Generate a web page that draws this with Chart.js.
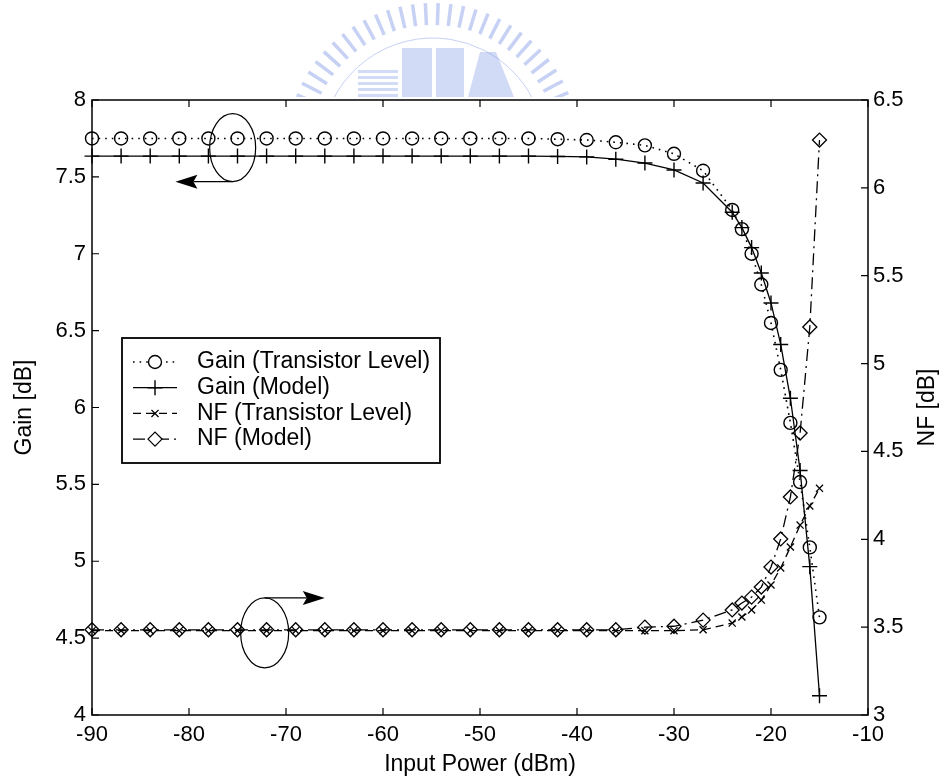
<!DOCTYPE html>
<html lang="en">
<head>
<meta charset="UTF-8" />
<title>Gain and NF vs Input Power</title>
<script src="https://cdn.jsdelivr.net/npm/chart.js"></script>
<style>
  body { margin: 0; background: #fff; }
  canvas { display: block; }
</style>
</head>
<body>
<canvas id="gainChart" width="944" height="782"></canvas>
<script>
// input power sweep (dBm): every 3 dBm, then every 1 dBm near compression
const inputPower = [-90, -87, -84, -81, -78, -75, -72, -69, -66, -63, -60, -57, -54, -51, -48, -45, -42, -39, -36, -33, -30, -27,
                    -24, -23, -22, -21, -20, -19, -18, -17, -16, -15];

// gain [dB], left axis
const gainTransistor = [7.75, 7.75, 7.75, 7.75, 7.75, 7.75, 7.75, 7.75, 7.75, 7.75, 7.75, 7.75, 7.75, 7.75, 7.75, 7.75, 7.745, 7.74, 7.725, 7.705, 7.65, 7.54,
                        7.285, 7.16, 7.0, 6.8, 6.55, 6.245, 5.9, 5.515, 5.09, 4.635];
const gainModel = [7.635, 7.635, 7.635, 7.635, 7.635, 7.635, 7.635, 7.635, 7.635, 7.635, 7.635, 7.635, 7.635, 7.635, 7.635, 7.635, 7.633, 7.63, 7.615, 7.59, 7.545, 7.46,
                   7.27, 7.17, 7.04, 6.875, 6.68, 6.41, 6.06, 5.59, 4.965, 4.125];

// noise figure [dB], right axis
const nfTransistor = [3.48, 3.48, 3.48, 3.48, 3.48, 3.48, 3.48, 3.48, 3.48, 3.48, 3.48, 3.48, 3.48, 3.48, 3.48, 3.48, 3.48, 3.48, 3.48, 3.48, 3.48, 3.485,
                      3.523, 3.558, 3.598, 3.654, 3.74, 3.837, 3.956, 4.081, 4.19, 4.29];
const nfModel = [3.485, 3.485, 3.485, 3.485, 3.485, 3.485, 3.485, 3.485, 3.485, 3.485, 3.485, 3.485, 3.485, 3.485, 3.485, 3.485, 3.485, 3.485, 3.485, 3.5, 3.505, 3.54,
                 3.598, 3.637, 3.671, 3.728, 3.842, 4.002, 4.241, 4.605, 5.208, 6.272];

const seriesLabels = ['Gain (Transistor Level)', 'Gain (Model)', 'NF (Transistor Level)', 'NF (Model)'];

const FONT = 'Liberation Sans, Arial, Helvetica, sans-serif';

const pts = ys => inputPower.map((x, i) => ({ x: x, y: ys[i] }));

// the circled-curve annotations (axis values), arrows point to the axis each curve belongs to
const gainCallout = { x: -75.5, y: 7.69, rx: 23, ry: 34, arrowTo: -81.4 };
const nfCallout = { x: -72.2, y: 3.467, rx: 24, ry: 35, arrowTo: -66 };

function arrowHead(ctx, tipX, y, dir) {
    ctx.beginPath();
    ctx.moveTo(tipX, y);
    ctx.lineTo(tipX - dir * 22, y - 7);
    ctx.lineTo(tipX - dir * 18, y);
    ctx.lineTo(tipX - dir * 22, y + 7);
    ctx.closePath();
    ctx.fill();
}

const decor = {
    id: 'decor',
    beforeDraw(chart) {
        const ctx = chart.ctx;
        ctx.save();
        ctx.fillStyle = '#fff';
        ctx.fillRect(0, 0, chart.width, chart.height);

        // faint watermark logo above the plot
        ctx.beginPath();
        ctx.rect(0, 0, chart.width, 97);
        ctx.clip();
        ctx.strokeStyle = 'rgba(105,135,225,0.38)';
        ctx.lineWidth = 3.5;
        const cx = 433, cy = 150;
        for (let a = 192; a <= 348; a += 5) {
            const r = a * Math.PI / 180;
            ctx.beginPath();
            ctx.moveTo(cx + Math.cos(r) * 125, cy + Math.sin(r) * 125);
            ctx.lineTo(cx + Math.cos(r) * 147, cy + Math.sin(r) * 147);
            ctx.stroke();
        }
        ctx.lineWidth = 1;
        ctx.beginPath();
        ctx.arc(cx, cy, 112, Math.PI * 1.05, Math.PI * 1.95);
        ctx.stroke();
        ctx.fillStyle = 'rgba(105,135,225,0.3)';
        for (let i = 0; i < 5; i++) ctx.fillRect(358, 70 + i * 6, 40, 3);
        ctx.fillRect(402, 48, 30, 49);
        ctx.fillRect(436, 48, 28, 49);
        ctx.beginPath();
        ctx.moveTo(468, 97); ctx.lineTo(480, 52); ctx.lineTo(496, 52); ctx.lineTo(514, 97);
        ctx.closePath();
        ctx.fill();
        ctx.restore();
    },
    afterDatasetsDraw(chart) {
        const ctx = chart.ctx;
        const a = chart.chartArea;
        const sx = chart.scales.x, sg = chart.scales.yGain, sn = chart.scales.yNF;
        ctx.save();

        // box and inward ticks
        ctx.strokeStyle = '#000';
        ctx.lineWidth = 1.5;
        ctx.strokeRect(a.left, a.top, a.right - a.left, a.bottom - a.top);
        ctx.lineWidth = 1.2;
        ctx.beginPath();
        sx.ticks.forEach(t => {
            const p = sx.getPixelForValue(t.value);
            ctx.moveTo(p, a.bottom); ctx.lineTo(p, a.bottom - 7);
            ctx.moveTo(p, a.top); ctx.lineTo(p, a.top + 7);
        });
        sg.ticks.forEach(t => {
            const p = sg.getPixelForValue(t.value);
            ctx.moveTo(a.left, p); ctx.lineTo(a.left + 7, p);
        });
        sn.ticks.forEach(t => {
            const p = sn.getPixelForValue(t.value);
            ctx.moveTo(a.right, p); ctx.lineTo(a.right - 7, p);
        });
        ctx.stroke();

        // callouts
        ctx.fillStyle = '#000';
        ctx.lineWidth = 1.2;
        [[gainCallout, sg, 1], [nfCallout, sn, -1]].forEach(([c, sy, side]) => {
            const px = sx.getPixelForValue(c.x), py = sy.getPixelForValue(c.y);
            const tip = sx.getPixelForValue(c.arrowTo);
            const dir = tip > px ? 1 : -1;
            const ay = py + side * c.ry;
            ctx.beginPath();
            ctx.ellipse(px, py, c.rx, c.ry, 0, 0, Math.PI * 2);
            ctx.stroke();
            ctx.beginPath();
            ctx.moveTo(px, ay);
            ctx.lineTo(tip - dir * 18, ay);
            ctx.stroke();
            arrowHead(ctx, tip, ay, dir);
        });

        // legend
        const lx = 122, ly = 338, lw = 318, lh = 125;
        ctx.fillStyle = '#fff';
        ctx.fillRect(lx, ly, lw, lh);
        ctx.lineWidth = 1.8;
        ctx.strokeRect(lx, ly, lw, lh);
        ctx.font = '23px ' + FONT;
        ctx.textBaseline = 'middle';
        chart.data.datasets.forEach((ds, i) => {
            const y = ly + 24 + i * 25.7;
            ctx.save();
            ctx.strokeStyle = '#000';
            ctx.lineWidth = ds.borderWidth;
            ctx.setLineDash(ds.borderDash || []);
            ctx.beginPath();
            ctx.moveTo(lx + 11, y);
            ctx.lineTo(lx + 55, y);
            ctx.stroke();
            ctx.restore();
            ctx.strokeStyle = '#000';
            ctx.fillStyle = '#fff';
            ctx.lineWidth = ds.pointBorderWidth;
            Chart.helpers.drawPoint(ctx, { pointStyle: ds.pointStyle, radius: ds.pointRadius, borderWidth: ds.pointBorderWidth, rotation: 0 }, lx + 33, y);
            ctx.fillStyle = '#000';
            ctx.fillText(ds.label, lx + 75, y);
        });

        // axis titles
        ctx.fillStyle = '#000';
        ctx.font = '23px ' + FONT;
        ctx.textAlign = 'center';
        ctx.textBaseline = 'middle';
        ctx.fillText('Input Power (dBm)', (a.left + a.right) / 2, 765);
        const mid = (a.top + a.bottom) / 2;
        ctx.save();
        ctx.translate(25, mid);
        ctx.rotate(-Math.PI / 2);
        ctx.fillText('Gain [dB]', 0, 0);
        ctx.restore();
        ctx.save();
        ctx.translate(928, mid);
        ctx.rotate(-Math.PI / 2);
        ctx.fillText('NF [dB]', 0, 0);
        ctx.restore();

        ctx.restore();
    }
};

const tickFont = { family: FONT, size: 22 };
const plainLabel = v => String(v);

new Chart(document.getElementById('gainChart'), {
    type: 'line',
    data: {
        datasets: [{
            label: seriesLabels[0],
            data: pts(gainTransistor),
            yAxisID: 'yGain',
            borderColor: '#000',
            borderWidth: 1.6,
            borderDash: [1.6, 5],
            pointStyle: 'circle',
            pointRadius: 6.5,
            pointBorderWidth: 1.4,
            pointBackgroundColor: 'rgba(0,0,0,0)',
            pointBorderColor: '#000'
        }, {
            label: seriesLabels[1],
            data: pts(gainModel),
            yAxisID: 'yGain',
            borderColor: '#000',
            borderWidth: 1.3,
            pointStyle: 'cross',
            pointRadius: 7.5,
            pointBorderWidth: 1.4,
            pointBorderColor: '#000'
        }, {
            label: seriesLabels[2],
            data: pts(nfTransistor),
            yAxisID: 'yNF',
            borderColor: '#000',
            borderWidth: 1.3,
            borderDash: [8, 5],
            pointStyle: 'crossRot',
            pointRadius: 5,
            pointBorderWidth: 1.3,
            pointBorderColor: '#000'
        }, {
            label: seriesLabels[3],
            data: pts(nfModel),
            yAxisID: 'yNF',
            borderColor: '#000',
            borderWidth: 1.3,
            borderDash: [12, 5, 2, 5],
            pointStyle: 'rectRot',
            pointRadius: 7,
            pointBorderWidth: 1.3,
            pointBackgroundColor: 'rgba(0,0,0,0)',
            pointBorderColor: '#000'
        }].map(ds => Object.assign({ tension: 0, fill: false, clip: false, borderCapStyle: 'butt' }, ds))
    },
    options: {
        responsive: false,
        animation: false,
        layout: { padding: { top: 100, left: 0, right: 0, bottom: 0 } },
        plugins: {
            legend: { display: false },
            tooltip: { enabled: false }
        },
        scales: {
            x: {
                type: 'linear',
                min: -90,
                max: -10,
                ticks: { stepSize: 10, autoSkip: false, font: tickFont, color: '#000', padding: 7, maxRotation: 0, callback: plainLabel },
                grid: { display: false, drawTicks: false },
                border: { display: false },
                afterFit: s => { s.height = 67; }
            },
            yGain: {
                position: 'left',
                min: 4,
                max: 8,
                ticks: { stepSize: 0.5, font: tickFont, color: '#000', padding: 6, callback: plainLabel },
                grid: { display: false, drawTicks: false },
                border: { display: false },
                afterFit: s => { s.width = 92; }
            },
            yNF: {
                position: 'right',
                min: 3,
                max: 6.5,
                ticks: { stepSize: 0.5, font: tickFont, color: '#000', padding: 5, callback: plainLabel },
                grid: { display: false, drawTicks: false },
                border: { display: false },
                afterFit: s => { s.width = 76; }
            }
        }
    },
    plugins: [decor]
});
</script>
</body>
</html>
